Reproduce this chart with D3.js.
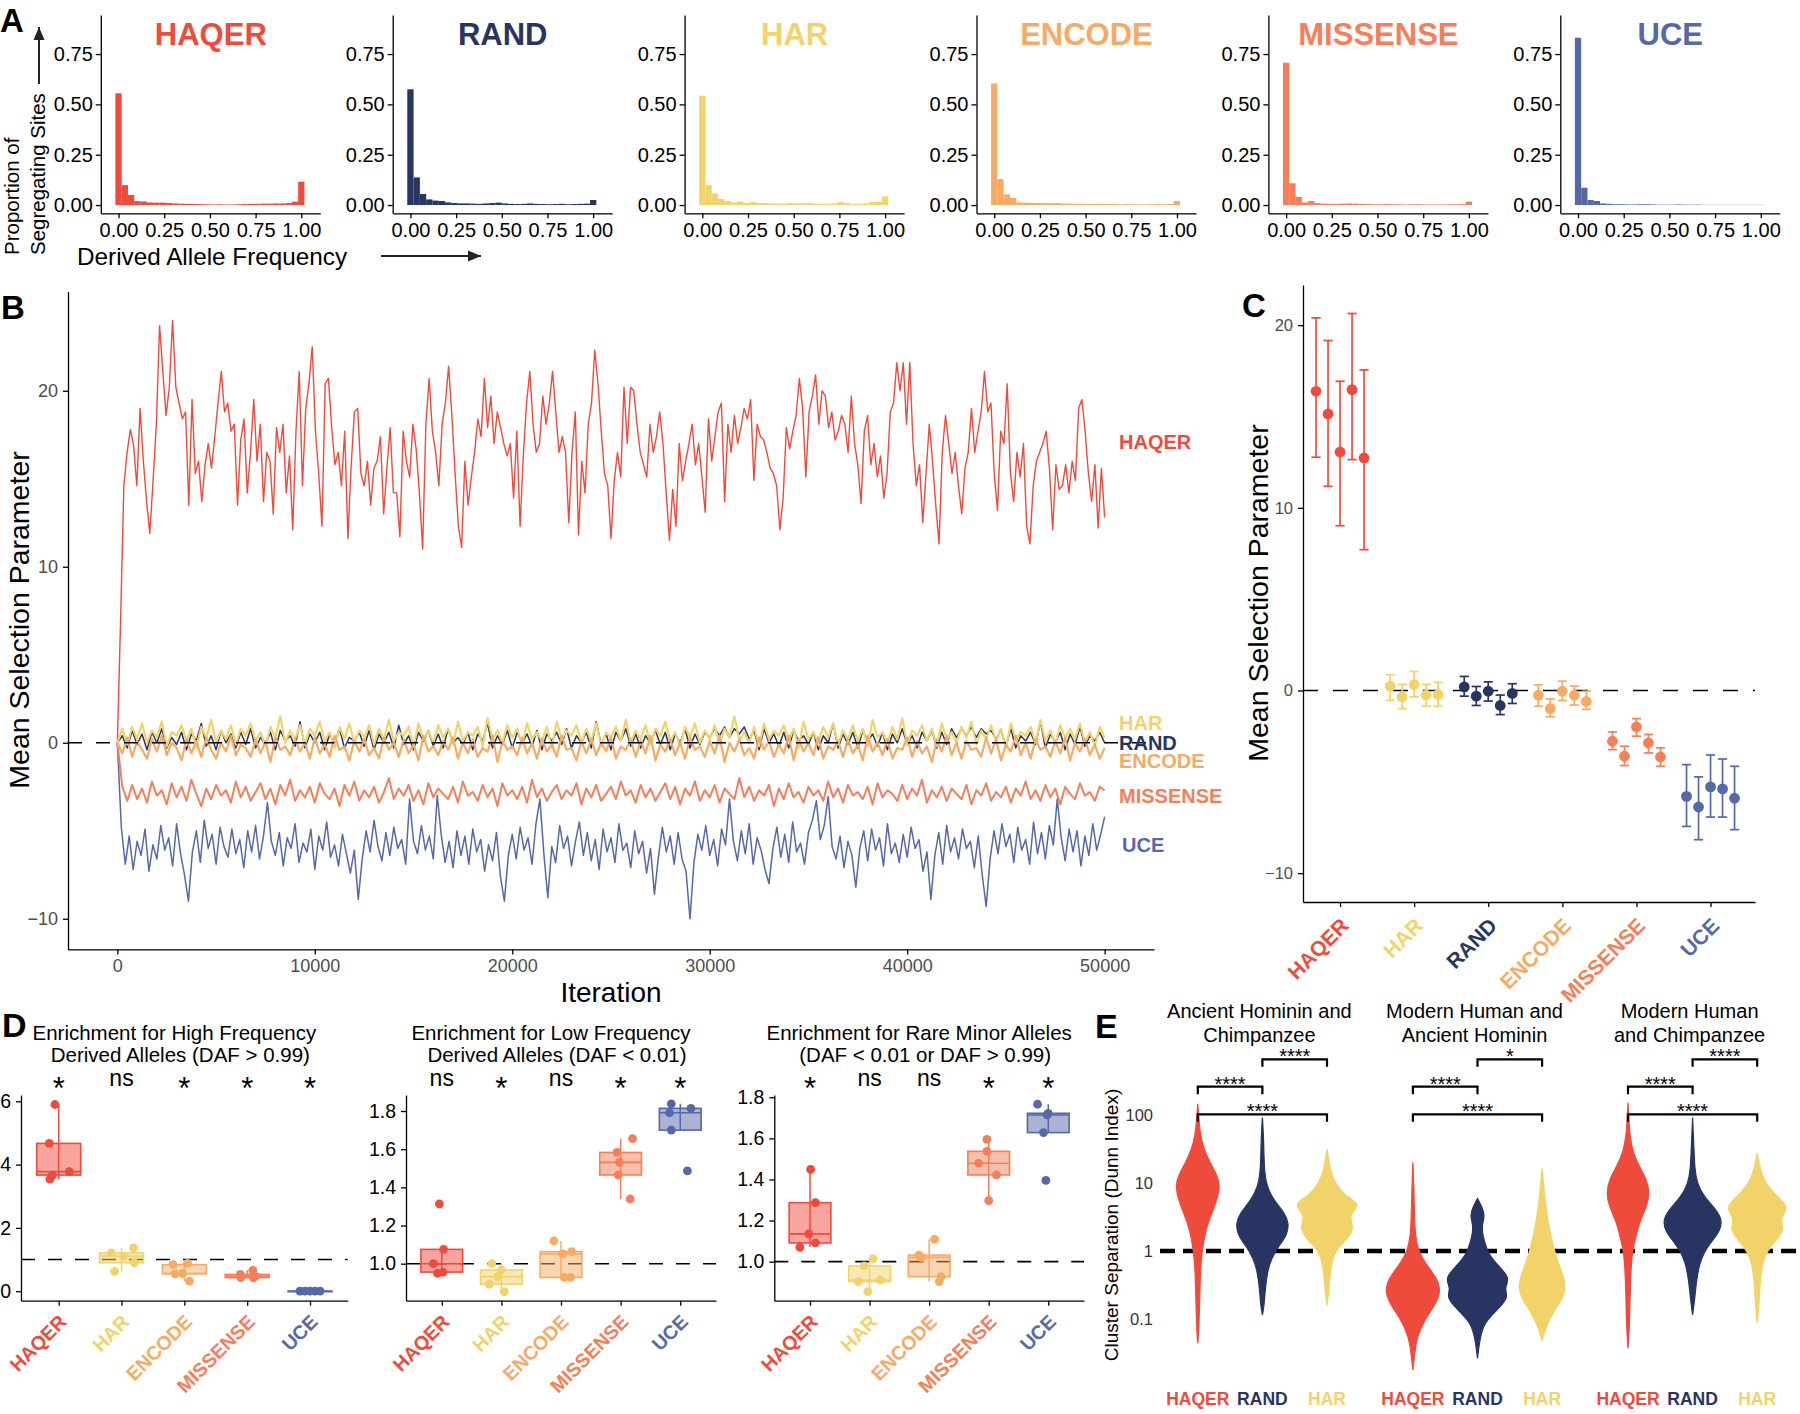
<!DOCTYPE html>
<html><head><meta charset="utf-8">
<script src="https://cdn.jsdelivr.net/npm/d3@7"></script>
<style>body{margin:0;background:#fff}svg{display:block}</style>
</head><body><svg id="fig" width="1800" height="1414"></svg>
<script>
// ---------------- DATA ----------------
const groupNames = ["HAQER","RAND","HAR","ENCODE","MISSENSE","UCE"];
const groupColors = ["#EF4B3C","#283462","#F1D36A","#F6AB64","#F47F58","#5568A8"];

// Panel A: proportion of segregating sites per DAF bin (30 bins, 0..1)
const histHAQER = [0.555,0.099,0.05,0.02,0.018,0.013,0.012,0.012,0.01,0.008,0.007,0.006,0.006,0.005,0.004,0.003,0.004,0.003,0.003,0.004,0.005,0.006,0.006,0.007,0.007,0.008,0.008,0.01,0.017,0.116];
const histRAND = [0.575,0.137,0.055,0.028,0.022,0.02,0.013,0.01,0.008,0.008,0.007,0.006,0.008,0.01,0.012,0.008,0.006,0.005,0.006,0.008,0.006,0.005,0.004,0.005,0.006,0.004,0.005,0.006,0.007,0.025];
const histHAR = [0.543,0.099,0.058,0.031,0.02,0.013,0.018,0.01,0.015,0.01,0.01,0.008,0.008,0.007,0.01,0.008,0.009,0.01,0.007,0.006,0.007,0.008,0.015,0.01,0.006,0.007,0.008,0.015,0.017,0.043];
const histENCODE = [0.604,0.129,0.053,0.035,0.013,0.012,0.011,0.01,0.01,0.009,0.01,0.008,0.007,0.006,0.006,0.005,0.005,0.006,0.005,0.005,0.004,0.005,0.004,0.004,0.003,0.004,0.005,0.004,0.006,0.02];
const histMISSENSE = [0.707,0.108,0.04,0.013,0.02,0.01,0.007,0.006,0.006,0.007,0.008,0.007,0.006,0.005,0.004,0.004,0.005,0.004,0.004,0.003,0.004,0.004,0.003,0.003,0.003,0.003,0.004,0.004,0.005,0.017];
const histUCE = [0.831,0.086,0.025,0.02,0.008,0.006,0.004,0.004,0.003,0.003,0.004,0.004,0.003,0.002,0.002,0.002,0.003,0.002,0.002,0.002,0.001,0.001,0.001,0.001,0.001,0.001,0.001,0.001,0.001,0.001];
const histTicks = [0,0.25,0.5,0.75,1];
const histYTicks = [0,0.25,0.5,0.75];

// Panel B: MCMC traces of mean selection parameter (evenly spaced over 0..50000 iterations)
const traceHAQER = [0,7,14.6,16.5,17.8,16.9,14.6,19.0,16.0,13.7,
11.9,14.9,18.1,23.7,21.1,18.6,20.2,24.0,20.2,19.3,
18.4,18.8,13.5,19.5,15.3,16.0,13.7,15.8,17.0,15.6,
17.4,19.3,21.1,18.8,19.3,17.7,18.1,13.5,17.2,18.4,
14.2,16.5,19.5,16.0,18.1,13.7,16.5,16.0,13.0,17.9,
16.5,18.1,14.2,16.3,12.1,17.7,21.1,14.6,19.0,20.4,
22.5,17.7,15.3,12.3,20.4,20.7,17.9,15.8,16.5,14.6,
17.7,11.6,15.8,18.8,19.0,15.3,14.6,16.0,13.5,15.6,
16.0,17.4,13.0,15.6,17.9,14.2,14.2,11.7,17.7,16.0,
15.1,18.1,16.7,14.2,11.0,18.1,20.7,17.7,16.5,14.6,
18.1,19.3,21.4,18.6,15.3,12.3,11.1,16.0,13.5,15.1,
16.5,18.4,17.4,20.7,17.9,19.7,17.0,18.8,17.9,17.0,
16.3,17.0,13.9,17.7,12.3,16.3,19.3,21.1,18.1,16.5,
17.0,19.7,18.1,19.3,21.1,18.8,16.5,17.4,16.5,12.5,
16.5,18.8,11.8,16.0,14.2,18.1,19.3,22.3,20.4,17.7,
15.3,14.6,11.6,14.9,16.5,15.1,20.2,17.0,20.2,20.0,
18.1,16.5,
15.8,15.1,18.1,16.5,17.4,18.8,17.0,14.2,11.5,14.4,
12.3,17.0,14.9,16.0,17.0,18.1,15.8,17.0,15.1,13.1,
18.4,16.0,17.4,18.8,19.3,13.7,18.1,16.5,18.6,17.0,
17.9,19.0,18.4,19.5,14.9,18.1,17.4,17.2,16.5,15.6,
15.3,14.6,12.1,13.9,17.9,16.7,17.7,18.6,20.7,19.0,
15.1,18.8,19.7,20.9,18.1,20.0,19.7,17.9,18.8,17.2,
17.7,18.6,18.1,16.5,19.7,17.0,15.8,13.6,17.7,18.6,
15.8,17.0,15.1,16.3,13.9,15.3,18.8,19.3,21.6,20.0,
21.6,18.1,21.6,17.0,14.6,15.8,12.5,15.3,18.1,16.0,
13.5,11.3,16.5,18.6,17.0,15.3,16.5,14.6,13.0,15.6,
16.5,19.0,16.5,17.7,18.8,21.1,18.8,19.3,15.3,13.2,
17.7,17.0,20.4,15.3,13.7,16.5,15.1,17.0,12.3,11.3,
14.6,16.0,16.5,17.0,17.7,15.6,12.1,15.8,14.4,14.6,
15.8,14.2,16.0,14.9,19.0,19.5,17.7,15.3,13.7,15.8,
12.2,15.6,12.8];
const traceUCE = [0,-4.8,-6.9,-5.3,-7.2,-5.6,-6.4,-4.9,-7.3,-5.8,
-6.6,-4.7,-6.1,-5.4,-7.0,-4.6,-6.3,-7.5,-9.0,-6.2,
-5.0,-6.8,-4.4,-6.0,-5.2,-6.9,-4.8,-5.9,-6.5,-4.9,
-6.3,-5.5,-7.1,-5.0,-6.2,-4.7,-6.6,-5.3,-3.4,-5.6,
-6.4,-5.1,-7.0,-5.4,-6.0,-4.6,-6.8,-5.7,-6.2,-4.9,
-7.2,-5.3,-6.1,-4.5,-6.5,-5.8,-7.0,-5.2,-6.3,-7.4,
-6.1,-8.9,-6.6,-5.0,-6.2,-4.4,-5.9,-6.7,-5.1,-6.4,
-4.8,-6.0,-5.5,-6.9,-3.2,-5.6,-6.3,-4.7,-6.1,-5.3,
-6.6,-3.0,-5.2,-6.8,-5.6,-7.1,-5.0,-6.4,-5.3,-6.9,
-4.9,-6.2,-5.5,-7.3,-5.8,-6.7,-5.1,-7.6,-9.0,-6.4,
-5.2,-6.6,-4.8,-6.1,-5.4,-6.9,-4.6,-3.2,-6.3,-8.8,
-5.9,-6.8,-4.7,-6.0,-5.3,-7.0,-5.6,-4.5,-6.4,-5.1,
-6.7,-5.5,-7.2,-4.9,-6.2,-5.4,-6.8,-4.6,-6.1,-5.7,
-7.1,-5.0,-6.3,-5.6,-7.4,-6.0,-8.6,-6.5,-4.8,-6.2,
-5.3,-6.9,-5.1,-6.6,-7.3,-10.0,-6.8,-5.2,-6.1,-4.7,
-6.4,-5.5,-7.0,-4.9,-5.8,-3.2,-5.6,-6.7,-5.0,-6.3,
-4.6,-6.9,-5.4,-6.1,-7.2,-8.0,-6.0,-4.8,-6.5,-5.2,
-6.8,-4.5,-6.2,-5.7,-6.9,-5.1,-4.4,-3.3,-5.5,-4.7,
-3.05,-5.9,-6.6,-5.3,-7.1,-5.6,-6.4,-8.2,-6.0,-5.0,
-6.7,-4.9,-6.1,-5.4,-7.0,-4.6,-6.3,-5.7,-6.8,-5.2,
-6.5,-4.8,-6.0,-5.5,-7.3,-6.2,-8.9,-6.4,-5.1,-6.9,
-4.7,-6.2,-5.4,-6.6,-4.9,-6.0,-5.6,-7.1,-5.3,-7.5,
-9.3,-6.6,-5.0,-6.3,-4.6,-5.9,-5.2,-6.8,-4.8,-6.1,
-5.5,-6.9,-4.5,-6.3,-5.1,-6.6,-4.7,-5.8,-3.2,-5.4,
-6.7,-4.9,-6.2,-5.0,-7.0,-5.3,-6.4,-4.6,-6.1,-5.2,
-4.2];
const traceMISSENSE = [0,-2.5,-3.3,-2.4,-3.2,-2.6,-3.4,-2.2,-3.0,-2.7,
-3.5,-2.3,-3.1,-2.5,-3.3,-2.1,-2.9,-3.6,-2.6,-3.2,
-2.4,-3.0,-2.7,-3.4,-2.2,-3.1,-2.5,-3.3,-2.8,-2.3,
-3.2,-2.6,-3.5,-2.4,-3.0,-2.1,-3.3,-2.7,-3.1,-2.5,
-3.4,-2.3,-2.9,-3.2,-2.6,-3.6,-2.4,-3.0,-2.2,-3.3,
-2.7,-3.1,-2.5,-3.4,-2.8,-2.0,-3.2,-2.6,-3.0,-2.4,
-3.3,-2.7,-3.5,-2.3,-3.1,-2.6,-2.9,-3.2,-2.5,-3.4,
-2.2,-3.0,-2.8,-3.3,-2.4,-3.1,-2.6,-3.6,-2.3,-3.0,
-2.7,-3.2,-2.5,-3.4,-2.1,-3.1,-2.6,-3.3,-2.8,-2.4,
-3.2,-2.7,-3.0,-2.3,-3.5,-2.6,-3.1,-2.4,-3.3,-2.9,
-2.5,-3.2,-2.2,-3.0,-2.7,-3.4,-2.4,-3.1,-2.6,-3.3,
-2.8,-2.3,-3.2,-2.5,-3.5,-2.6,-3.0,-2.2,-3.3,-2.7,
-3.1,-2.4,-3.4,-2.6,-2.9,-3.2,-2.0,-3.1,-2.5,-3.3,
-2.7,-3.0,-2.4,-3.6,-2.6,-3.2,-2.3,-3.1,-2.8,-3.4,
-2.5,-3.0,-2.7,-3.3,-2.2,-3.1,-2.6,-3.4,-2.4,-3.0,
-2.8,-3.2,-2.5,-3.5,-2.3,-3.1,-2.7,-2.9,-3.3,-2.4,
-3.2,-2.6,-3.0,-2.1,-3.4,-2.7,-3.1,-2.5,-3.3,-2.6,
-2.9,-3.2,-2.4,-3.5,-2.7,-3.0,-2.3,-3.3,-2.8,-3.1,
-2.5,-3.4,-2.6,-3.0,-2.2,-3.2,-2.7,-3.3,-2.4,-3.1,
-2.6,-3.5,-2.5,-2.9,-3.2,-2.3,-3.0,-2.8,-3.3,-2.5,
-2.7];
const traceRAND = [0,0.4,-0.3,0.7,-0.1,0.5,-0.4,0.6,0.0,0.8,
-0.3,0.3,-0.1,0.6,-0.4,0.5,0.1,1.1,-0.2,0.4,
-0.4,0.7,0.0,0.5,-0.3,0.6,-0.1,0.8,-0.3,0.3,
-0.1,0.6,-0.4,0.7,0.1,0.4,-0.2,1.2,-0.3,0.5,
0.0,0.6,-0.4,0.5,-0.1,0.8,-0.3,0.3,0.1,0.6,
-0.2,0.7,-0.4,0.5,0.0,0.6,-0.3,1.0,-0.1,0.4,
-0.4,0.6,0.1,0.7,-0.2,0.5,-0.3,0.8,0.0,0.3,
-0.1,0.6,-0.4,0.5,0.1,1.1,-0.3,0.4,-0.1,0.7,
-0.3,0.6,0.0,0.5,-0.2,0.7,-0.4,0.5,0.1,0.6,
-0.1,0.8,-0.3,0.4,0.0,0.6,-0.3,1.2,-0.1,0.5,
-0.4,0.6,0.1,0.8,-0.2,0.5,-0.3,0.4,0.0,0.7,
-0.1,0.6,-0.4,0.5,0.0,0.8,-0.3,0.5,-0.1,0.6,
0.3,0.8,0.4,0.9,0.3,0.8,0.5,0.9,0.2,0.7,
-0.4,0.8,0.0,0.5,-0.2,0.6,-0.3,0.7,0.1,0.4,
-0.1,0.6,-0.4,0.4,0.0,1.1,-0.3,0.5,-0.1,0.6,
-0.3,0.7,0.1,0.5,-0.2,0.6,-0.4,0.5,0.0,0.8,
-0.1,0.4,-0.3,0.6,0.1,0.7,-0.3,0.6,-0.1,0.8,
0.3,0.8,0.4,0.9,0.3,0.8,0.5,0.7,0.2,0.7,
-0.2,0.8,-0.3,0.4,0.1,0.6,-0.1,1.2,-0.3,0.5,
0.0,0.6,-0.4,0.5,-0.1,0.9,-0.2,0.4,0.1,0.6,
0.0];
const traceHAR = [0,0.8,-0.1,0.9,0.2,1.1,0.0,0.7,0.3,1.2,
-0.2,0.6,0.4,1.0,0.1,0.8,-0.3,0.9,0.3,1.3,
0.0,0.7,0.2,1.0,-0.1,0.8,0.4,1.1,0.1,0.6,
-0.2,0.9,0.3,1.5,0.0,0.7,0.2,1.0,-0.1,0.8,
0.4,1.2,0.1,0.6,-0.3,0.9,0.2,1.1,0.0,0.7,
0.3,1.0,-0.1,0.8,0.2,1.3,0.1,0.6,0.4,0.9,
-0.2,1.1,0.2,0.7,0.0,1.0,0.3,0.8,-0.1,1.2,
0.1,0.6,0.4,0.9,-0.2,1.4,0.2,0.7,0.0,1.0,
0.3,0.8,-0.1,1.1,0.2,0.6,0.1,0.9,-0.3,1.2,
0.2,0.7,0.4,1.0,0.0,0.8,0.1,1.1,-0.2,0.6,
0.3,0.9,0.1,1.3,0.0,0.7,0.2,1.0,-0.1,0.8,
0.4,1.2,0.1,0.6,-0.2,0.9,0.3,1.1,0.0,0.7,
0.2,1.0,-0.1,0.8,0.3,1.5,0.1,0.6,0.0,0.9,
-0.2,1.1,0.2,0.7,0.4,1.0,0.1,0.8,-0.3,1.2,
0.2,0.6,0.0,0.9,0.3,1.1,-0.1,0.7,0.2,1.0,
0.1,0.8,-0.2,1.3,0.3,0.6,0.0,0.9,0.2,1.4,
-0.1,0.7,0.4,1.0,0.1,0.8,-0.2,1.1,0.2,0.6,
0.0,0.9,0.3,1.2,-0.1,0.7,0.2,1.0,0.1,0.8,
-0.3,1.1,0.2,0.6,0.4,0.9,0.0,1.3,0.1,0.7,
-0.1,1.0,0.3,0.8,0.2,1.1,0.0,0.6,-0.2,0.9,
0.3];
const traceENCODE = [0,-0.6,0.3,-0.8,0.1,-0.4,-0.9,0.2,-0.5,0.4,
-0.7,0.0,-0.3,-1.0,0.2,-0.6,0.1,-0.8,0.3,-0.4,
-0.9,0.0,-0.5,0.4,-0.7,-0.1,-0.3,-0.8,0.2,-0.6,
0.1,-1.1,0.3,-0.4,-0.2,-0.7,0.2,-0.5,0.0,-0.9,
0.3,-0.6,-0.1,-0.8,0.4,-0.4,-0.2,-1.0,0.1,-0.5,
0.2,-0.7,-0.3,-0.9,0.3,-0.4,0.0,-0.8,0.2,-0.6,
-0.1,-1.0,0.4,-0.5,-0.2,-0.7,0.1,-0.4,0.3,-0.9,
0.0,-0.6,0.2,-0.8,-0.3,-0.5,0.4,-1.1,0.1,-0.4,
-0.2,-0.7,0.3,-0.6,0.0,-0.9,0.2,-0.5,-0.1,-0.8,
0.4,-0.4,-0.3,-1.0,0.1,-0.6,0.2,-0.7,0.0,-0.5,
0.3,-0.9,-0.2,-0.4,0.2,-0.8,0.1,-0.6,0.4,-1.0,
-0.1,-0.5,0.2,-0.7,0.0,-0.9,0.3,-0.4,-0.2,-0.8,
0.1,-0.6,0.4,-1.1,0.0,-0.5,0.2,-0.7,-0.3,-0.9,
0.3,-0.4,0.1,-0.8,-0.1,-0.6,0.4,-1.0,0.2,-0.5,
0.0,-0.7,0.3,-0.9,-0.2,-0.4,0.1,-0.8,0.2,-0.6,
-0.1,-1.0,0.4,-0.5,0.0,-0.7,0.2,-0.9,-0.3,-0.4,
0.3,-0.8,0.1,-0.6,-0.2,-1.1,0.2,-0.5,0.4,-0.7,
0.0,-0.9,0.1,-0.4,-0.3,-0.8,0.3,-0.6,0.2,-1.0,
-0.1,-0.5,0.4,-0.7,0.0,-0.9,0.2,-0.4,-0.2,-0.8,
0.1,-0.6,0.3,-1.0,0.0,-0.5,0.2,-0.7,-0.1,-0.9,
-0.3];
const traceXTicks = [0,10000,20000,30000,40000,50000];
const traceYTicks = [-10,0,10,20];
const traceLabelNames = ["HAQER","HAR","RAND","ENCODE","MISSENSE","UCE"];
const traceLabelValues = [17.1,1.15,0.0,-1.05,-3.0,-5.8];

// Panel C: per-replicate posterior mean with interval
const cCats = ["HAQER","HAR","RAND","ENCODE","MISSENSE","UCE"];
const cMean = [[16.38,15.14,13.06,16.47,12.73],[0.24,-0.35,0.33,-0.26,-0.22],[0.2,-0.31,-0.04,-0.82,-0.16],[-0.26,-0.99,-0.04,-0.26,-0.6],[-2.78,-3.6,-2.0,-2.87,-3.64],[-5.8,-6.38,-5.28,-5.39,-5.9]];
const cLow = [[12.77,11.18,9.02,12.64,7.71],[-0.53,-0.99,-0.35,-0.86,-0.86],[-0.31,-0.82,-0.58,-1.32,-0.71],[-0.86,-1.44,-0.55,-0.8,-1.04],[-3.24,-4.11,-2.5,-3.42,-4.15],[-7.44,-8.17,-6.93,-6.93,-7.62]];
const cHigh = [[20.4,19.16,16.93,20.64,17.55],[0.86,0.33,1.04,0.33,0.44],[0.77,0.22,0.47,-0.25,0.37],[0.31,-0.46,0.51,0.24,-0.04],[-2.27,-3.05,-1.54,-2.41,-3.14],[-4.06,-4.73,-3.53,-3.75,-4.15]];
const cYTicks = [-10,0,10,20];

// Panel D: enrichment per replicate
const dCats = ["HAQER","HAR","ENCODE","MISSENSE","UCE"];
const dTitles = [["Enrichment for High Frequency","Derived Alleles (DAF > 0.99)"],["Enrichment for Low Frequency","Derived Alleles (DAF < 0.01)"],["Enrichment for Rare Minor Alleles","(DAF < 0.01 or DAF > 0.99)"]];
const dHighFreq = [[5.9,4.67,3.67,3.54,3.78],[1.21,1.11,1.37,0.63,0.90],[0.84,0.88,0.56,0.32,0.55],[0.53,0.43,0.66,0.47,0.42],[0.0,0.0,0.0,0.0,0.0]];
const dLowFreq = [[1.313,1.075,1.0,0.95,0.956],[1.0,0.967,0.932,0.893,0.853],[1.119,1.051,1.063,0.928,0.928],[1.655,1.583,1.531,1.465,1.339],[1.838,1.791,1.814,1.70,1.486]];
const dRare = [[1.449,1.287,1.135,1.091,1.07],[1.015,0.979,0.911,0.903,0.854],[1.109,1.032,1.021,0.927,0.903],[1.595,1.537,1.479,1.422,1.297],[1.766,1.722,1.714,1.628,1.396]];
const dSigHigh = ["*","ns","*","*","*"];
const dSigLow = ["ns","*","ns","*","*"];
const dSigRare = ["*","ns","ns","*","*"];
const dTicksHigh = [0,2,4,6];
const dTicksLow = [1.0,1.2,1.4,1.6,1.8];
const dTicksRare = [1.0,1.2,1.4,1.6,1.8];

// Panel E: Dunn index distributions, [log10(Dunn index), relative density]
const eFacets = [["Ancient Hominin and","Chimpanzee"],["Modern Human and","Ancient Hominin"],["Modern Human","and Chimpanzee"]];
const eGroups = ["HAQER","RAND","HAR"];
const vAncChimpHAQER = [[-1.36,0],[-1.2,0.04],[-1.0,0.06],[-0.7,0.09],[-0.4,0.11],[-0.2,0.14],[0,0.2],[0.2,0.3],[0.4,0.45],[0.6,0.7],[0.8,0.92],[0.95,1.0],[1.1,0.9],[1.3,0.55],[1.5,0.27],[1.7,0.12],[1.9,0.06],[2.16,0]];
const vAncChimpRAND = [[-0.94,0],[-0.8,0.08],[-0.6,0.12],[-0.4,0.19],[-0.2,0.3],[0,0.6],[0.1,0.82],[0.25,1.13],[0.4,1.2],[0.55,1.03],[0.75,0.5],[0.95,0.2],[1.15,0.1],[1.4,0.07],[1.7,0.05],[1.96,0]];
const vAncChimpHAR = [[-0.8,0],[-0.6,0.08],[-0.35,0.14],[-0.1,0.25],[0.05,0.5],[0.2,1.0],[0.35,1.23],[0.5,1.0],[0.62,1.3],[0.7,1.45],[0.82,0.8],[1.0,0.35],[1.2,0.14],[1.35,0.08],[1.49,0]];
const vModAncHAQER = [[-1.75,0],[-1.5,0.08],[-1.25,0.2],[-1.0,0.55],[-0.8,1.0],[-0.6,1.28],[-0.4,1.1],[-0.2,0.6],[0,0.25],[0.2,0.12],[0.5,0.07],[0.9,0.05],[1.3,0]];
const vModAncRAND = [[-1.58,0],[-1.3,0.1],[-1.05,0.3],[-0.85,0.95],[-0.68,1.42],[-0.55,1.2],[-0.4,1.5],[-0.22,0.95],[-0.05,0.5],[0.15,0.3],[0.35,0.17],[0.5,0.33],[0.62,0.25],[0.77,0]];
const vModAncHAR = [[-1.31,0],[-1.1,0.2],[-0.9,0.5],[-0.7,0.95],[-0.5,1.1],[-0.3,0.88],[-0.05,0.6],[0.15,0.45],[0.45,0.25],[0.8,0.12],[1.21,0]];
const vModChimpHAQER = [[-1.43,0],[-1.2,0.05],[-0.9,0.08],[-0.6,0.1],[-0.3,0.13],[0,0.2],[0.2,0.35],[0.45,0.55],[0.65,0.85],[0.85,0.99],[1.05,0.85],[1.25,0.5],[1.45,0.22],[1.7,0.08],[1.95,0.04],[2.18,0]];
const vModChimpRAND = [[-0.94,0],[-0.7,0.1],[-0.45,0.17],[-0.2,0.3],[0,0.55],[0.15,0.9],[0.3,1.25],[0.45,1.34],[0.6,1.1],[0.8,0.5],[1.0,0.2],[1.2,0.1],[1.5,0.06],[1.96,0]];
const vModChimpHAR = [[-1.06,0],[-0.8,0.08],[-0.5,0.12],[-0.2,0.22],[0,0.45],[0.15,0.85],[0.32,1.25],[0.47,1.0],[0.64,1.48],[0.8,0.9],[1.0,0.35],[1.2,0.14],[1.44,0]];
const eSig = [["****","****","****"],["****","****","*"],["****","****","****"]]; // pairs: HAQER-RAND, HAQER-HAR, RAND-HAR
const eTicks = [0.1,1,10,100];

// ---------------- DRAWING ----------------
const FONT = '"Liberation Sans", Arial, Helvetica, sans-serif';
const col = name => groupColors[groupNames.indexOf(name)];
const svg = d3.select("#fig");
svg.append("rect").attr("width",1800).attr("height",1414).attr("fill","#fff");

function styleAxis(g, fs, color, lw) {
  g.attr("font-family", FONT).attr("font-size", fs);
  g.select(".domain").attr("stroke","#000").attr("stroke-width", lw || 1.3);
  g.selectAll(".tick line").attr("stroke","#000").attr("stroke-width", lw || 1.3);
  g.selectAll(".tick text").attr("fill", color || "#000");
  return g;
}
function txt(x, y, s, o) {
  o = o || {};
  const t = svg.append("text").attr("x", x).attr("y", y).text(s)
    .attr("font-family", FONT).attr("font-size", o.fs || 20)
    .attr("fill", o.fill || "#000").attr("text-anchor", o.anchor || "start")
    .attr("font-weight", o.bold ? "bold" : "normal");
  if (o.rot) t.attr("transform", `rotate(${o.rot},${x},${y})`);
  if (o.baseline) t.attr("dominant-baseline", o.baseline);
  return t;
}
function arrow(x1, y1, x2, y2) {
  svg.append("line").attr("x1",x1).attr("y1",y1).attr("x2",x2).attr("y2",y2).attr("stroke","#222").attr("stroke-width",2);
  const a = Math.atan2(y2-y1, x2-x1), L = 13, W = 5.5;
  const p = [[x2,y2],[x2-L*Math.cos(a)+W*Math.sin(a), y2-L*Math.sin(a)-W*Math.cos(a)],[x2-L*Math.cos(a)-W*Math.sin(a), y2-L*Math.sin(a)+W*Math.cos(a)]];
  svg.append("path").attr("d", d3.line()(p)+"Z").attr("fill","#222");
}

// ===== Panel A =====
txt(0, 32, "A", {fs: 33, bold: true});
const histData = [histHAQER, histRAND, histHAR, histENCODE, histMISSENSE, histUCE];
groupNames.forEach((name, k) => {
  const x0 = 100.8 + 291.9 * k;
  const xs = d3.scaleLinear().domain([-0.097, 1.104]).range([x0, x0 + 219.5]);
  const ys = d3.scaleLinear().domain([-0.041, 0.944]).range([213.3, 15]);
  const bw = 1 / (histData[k].length - 1);
  const g = svg.append("g");
  g.selectAll("rect").data(histData[k]).join("rect")
    .attr("x", (d, i) => xs(i * bw - bw / 2)).attr("width", xs(bw) - xs(0))
    .attr("y", d => ys(d)).attr("height", d => ys(0) - ys(d))
    .attr("fill", groupColors[k]);
  styleAxis(svg.append("g").attr("transform", `translate(${x0},0)`)
    .call(d3.axisLeft(ys).tickValues(histYTicks).tickFormat(d3.format(".2f")).tickSize(5).tickSizeOuter(0).tickPadding(3)), 20);
  styleAxis(svg.append("g").attr("transform", "translate(0,213.3)")
    .call(d3.axisBottom(xs).tickValues(histTicks).tickFormat(d3.format(".2f")).tickSize(5).tickSizeOuter(0).tickPadding(5)), 20);
  txt(x0 + 110, 45, name, {fs: 31, bold: true, fill: groupColors[k], anchor: "middle"});
});
txt(18.5, 255, "Proportion of", {fs: 20.5, rot: -90});
txt(45, 255, "Segregating Sites", {fs: 20.5, rot: -90});
arrow(39, 84, 39, 27);
txt(77, 265, "Derived Allele Frequency", {fs: 24.3});
arrow(381, 256, 481, 256);

// ===== Panel B =====
txt(1, 319, "B", {fs: 33, bold: true});
const xB = d3.scaleLinear().domain([-2500, 52500]).range([68, 1154]);
const yB = d3.scaleLinear().domain([-11.74, 25.64]).range([949.4, 291.5]);
const traceOrder = [["HAQER", traceHAQER, 1.4], ["UCE", traceUCE, 1.5], ["MISSENSE", traceMISSENSE, 2.0], ["RAND", traceRAND, 1.5], ["HAR", traceHAR, 2.2], ["ENCODE", traceENCODE, 2.2]];
traceOrder.forEach(([name, vals, w]) => {
  const step = 50000 / (vals.length - 1);
  svg.append("path").datum(vals)
    .attr("d", d3.line().x((d, i) => xB(i * step)).y(d => yB(d)))
    .attr("fill", "none").attr("stroke", col(name)).attr("stroke-width", w)
    .attr("stroke-linejoin", "round");
});
svg.append("line").attr("x1", 68).attr("x2", 1154).attr("y1", yB(0)).attr("y2", yB(0))
  .attr("stroke", "#000").attr("stroke-width", 1.6).attr("stroke-dasharray", "14,14");
styleAxis(svg.append("g").attr("transform", "translate(68,0)")
  .call(d3.axisLeft(yB).tickValues(traceYTicks).tickSize(5).tickSizeOuter(0).tickPadding(5)), 18, "#4D4D4D");
styleAxis(svg.append("g").attr("transform", "translate(0,949.4)")
  .call(d3.axisBottom(xB).tickValues(traceXTicks).tickFormat(d3.format("d")).tickSize(5).tickSizeOuter(0).tickPadding(5)), 18, "#4D4D4D");
traceLabelNames.forEach((n, i) => {
  txt(n === "UCE" ? 1122 : 1119, yB(traceLabelValues[i]), n, {fs: 20, bold: true, fill: col(n), baseline: "central"});
});
txt(29, 620, "Mean Selection Parameter", {fs: 28.5, rot: -90, anchor: "middle"});
txt(611, 1002, "Iteration", {fs: 28, anchor: "middle"});

// ===== Panel C =====
txt(1242, 317, "C", {fs: 33, bold: true});
const xC = d3.scaleLinear().domain([0.5, 6.6]).range([1303, 1755]);
const yC = d3.scaleLinear().domain([-11.58, 22.2]).range([902, 285]);
svg.append("line").attr("x1", 1303).attr("x2", 1755).attr("y1", yC(0)).attr("y2", yC(0))
  .attr("stroke", "#000").attr("stroke-width", 1.6).attr("stroke-dasharray", "15,15");
cCats.forEach((name, ci) => {
  cMean[ci].forEach((m, j) => {
    const x = xC(ci + 1 + (j - 2) * 0.162);
    const c = col(name);
    svg.append("line").attr("x1", x).attr("x2", x).attr("y1", yC(cLow[ci][j])).attr("y2", yC(cHigh[ci][j])).attr("stroke", c).attr("stroke-width", 1.7);
    [cLow[ci][j], cHigh[ci][j]].forEach(v => svg.append("line").attr("x1", x - 4.6).attr("x2", x + 4.6).attr("y1", yC(v)).attr("y2", yC(v)).attr("stroke", c).attr("stroke-width", 1.7));
    svg.append("circle").attr("cx", x).attr("cy", yC(m)).attr("r", 5.4).attr("fill", c);
  });
});
styleAxis(svg.append("g").attr("transform", "translate(1303,0)")
  .call(d3.axisLeft(yC).tickValues(cYTicks).tickSize(5).tickSizeOuter(0).tickPadding(5)), 16.5, "#4D4D4D");
styleAxis(svg.append("g").attr("transform", "translate(0,902)")
  .call(d3.axisBottom(xC).tickValues(d3.range(1, 7)).tickFormat("").tickSize(5).tickSizeOuter(0)), 16);
cCats.forEach((name, ci) => {
  const x = xC(ci + 1) + 10, y = 902 + 25;
  txt(x, y, name, {fs: 21, bold: true, fill: col(name), anchor: "end", rot: -45});
});
txt(1268, 593, "Mean Selection Parameter", {fs: 28.5, rot: -90, anchor: "middle"});

// ===== Panel D =====
txt(2, 1037, "D", {fs: 34, bold: true});
const dSets = [
  {vals: dHighFreq, sig: dSigHigh, ticks: dTicksHigh, fmt: d3.format("d"), xr: [21, 347.7], yd: [-0.3, 6.2], ref: 1,
   jit: [[-0.06,-0.15,-0.1,-0.14,0.17],[-0.16,0.03,0.19,-0.11,0.2],[-0.18,0.05,-0.03,0.08,-0.15],[-0.11,-0.1,0.09,0.13,0.1],[-0.16,-0.08,0,0.08,0.16]]},
  {vals: dLowFreq, sig: dSigLow, ticks: dTicksLow, fmt: d3.format(".1f"), xr: [406, 716], yd: [0.806, 1.884], ref: 1,
   jit: [[-0.04,0.03,-0.14,-0.07,0.02],[-0.16,0,-0.06,-0.2,0.05],[-0.12,0.03,0.18,0.05,0.16],[0.2,-0.06,-0.02,-0.04,0.16],[-0.15,-0.18,0.18,-0.15,0.12]]},
  {vals: dRare, sig: dSigRare, ticks: dTicksRare, fmt: d3.format(".1f"), xr: [774.3, 1084], yd: [0.81, 1.811], ref: 1,
   jit: [[0.01,0.09,-0.02,0.09,-0.17],[0.06,-0.09,0.18,-0.19,-0.03],[0.09,-0.17,-0.13,0.2,0.17],[-0.03,-0.03,-0.17,0.13,0],[-0.18,0,-0.02,-0.08,-0.04]]}
];
dSets.forEach((S, si) => {
  const xs = d3.scaleLinear().domain([0.4, 5.6]).range(S.xr);
  const ys = d3.scaleLinear().domain(S.yd).range([1300.7, 1095]);
  const pc = (S.xr[0] + S.xr[1]) / 2;
  txt(pc - 10, 1040, dTitles[si][0], {fs: 20.5, anchor: "middle"});
  txt(pc - 4, 1062, dTitles[si][1], {fs: 20.5, anchor: "middle"});
  svg.append("line").attr("x1", S.xr[0]).attr("x2", S.xr[1]).attr("y1", ys(S.ref)).attr("y2", ys(S.ref))
    .attr("stroke", "#000").attr("stroke-width", 1.6).attr("stroke-dasharray", "14,13");
  dCats.forEach((name, ci) => {
    const c = col(name);
    const v = S.vals[ci].slice().sort(d3.ascending);
    const q1 = d3.quantile(v, 0.25), med = d3.quantile(v, 0.5), q3 = d3.quantile(v, 0.75);
    const iqr = q3 - q1;
    const lo = d3.min(v.filter(d => d >= q1 - 1.5 * iqr)), hi = d3.max(v.filter(d => d <= q3 + 1.5 * iqr));
    const xc = xs(ci + 1), hw = (xs(1.35) - xs(1));
    svg.append("line").attr("x1", xc).attr("x2", xc).attr("y1", ys(hi)).attr("y2", ys(lo)).attr("stroke", c).attr("stroke-width", 1.5);
    svg.append("rect").attr("x", xc - hw).attr("width", 2 * hw).attr("y", ys(q3)).attr("height", Math.max(ys(q1) - ys(q3), 0.5))
      .attr("fill", c).attr("fill-opacity", 0.5).attr("stroke", c).attr("stroke-width", 1.6);
    svg.append("line").attr("x1", xc - hw).attr("x2", xc + hw).attr("y1", ys(med)).attr("y2", ys(med)).attr("stroke", c).attr("stroke-width", 1.6);
    S.vals[ci].forEach((d, j) => {
      svg.append("circle").attr("cx", xs(ci + 1 + S.jit[ci][j])).attr("cy", ys(d)).attr("r", 4.4).attr("fill", c);
    });
    const s = S.sig[ci];
    if (s === "ns") txt(xc, 1086, s, {fs: 23, anchor: "middle"});
    else txt(xc, 1099, s, {fs: 31, anchor: "middle"});
    txt(xc + 9, 1323, name, {fs: 19.5, bold: true, fill: c, anchor: "end", rot: -45});
  });
  styleAxis(svg.append("g").attr("transform", `translate(${S.xr[0]},0)`)
    .call(d3.axisLeft(ys).tickValues(S.ticks).tickFormat(S.fmt).tickSize(5).tickSizeOuter(0).tickPadding(5)), 19.5);
  styleAxis(svg.append("g").attr("transform", "translate(0,1300.7)")
    .call(d3.axisBottom(xs).tickValues(d3.range(1, 6)).tickFormat("").tickSize(5).tickSizeOuter(0)), 16);
});

// ===== Panel E =====
txt(1095, 1038, "E", {fs: 34, bold: true});
const yE = d3.scaleLog().domain([10 ** -1.8, 10 ** 2.3]).range([1373.5, 1094.3]);
const wE = d3.scaleLinear().domain([0, 1]).range([0, 22]);
const violins = [[vAncChimpHAQER, vAncChimpRAND, vAncChimpHAR], [vModAncHAQER, vModAncRAND, vModAncHAR], [vModChimpHAQER, vModChimpRAND, vModChimpHAR]];
svg.append("line").attr("x1", 1160).attr("x2", 1800).attr("y1", yE(1)).attr("y2", yE(1))
  .attr("stroke", "#000").attr("stroke-width", 4.5).attr("stroke-dasharray", "15,8");
eFacets.forEach((title, f) => {
  const c0 = 1197.8 + 215.1 * f;
  const xf = d3.scaleLinear().domain([1, 3]).range([c0, c0 + 129.2]);
  txt(xf(2) - 3, 1018, title[0], {fs: 20, anchor: "middle"});
  txt(xf(2) - 3, 1042, title[1], {fs: 20, anchor: "middle"});
  eGroups.forEach((g, gi) => {
    const cx = xf(gi + 1);
    const area = d3.area().curve(d3.curveBasis)
      .y(d => yE(10 ** d[0])).x0(d => cx - wE(d[1])).x1(d => cx + wE(d[1]));
    svg.append("path").datum(violins[f][gi]).attr("d", area).attr("fill", col(g))
      .attr("stroke", col(g)).attr("stroke-width", 1.2);
    txt(cx, 1405, g, {fs: 17.5, bold: true, fill: col(g), anchor: "middle"});
  });
  const br = [[1, 2, 1086.7, 0], [1, 3, 1114.3, 1], [2, 3, 1059.3, 2]];
  br.forEach(([a, b, y, k]) => {
    const xa = xf(a), xb = xf(b);
    svg.append("path").attr("d", d3.line()([[xa, y + 7.5], [xa, y], [xb, y], [xb, y + 7.5]]))
      .attr("fill", "none").attr("stroke", "#000").attr("stroke-width", 2.2);
    txt((xa + xb) / 2, y + 4, eSig[f][k], {fs: 20, anchor: "middle"});
  });
});
eTicks.forEach(t => txt(1153, yE(t), String(t), {fs: 16.5, anchor: "end", baseline: "central", fill: "#333"}));
txt(1118, 1225, "Cluster Separation (Dunn Index)", {fs: 19, rot: -90, anchor: "middle"});
</script></body></html>
